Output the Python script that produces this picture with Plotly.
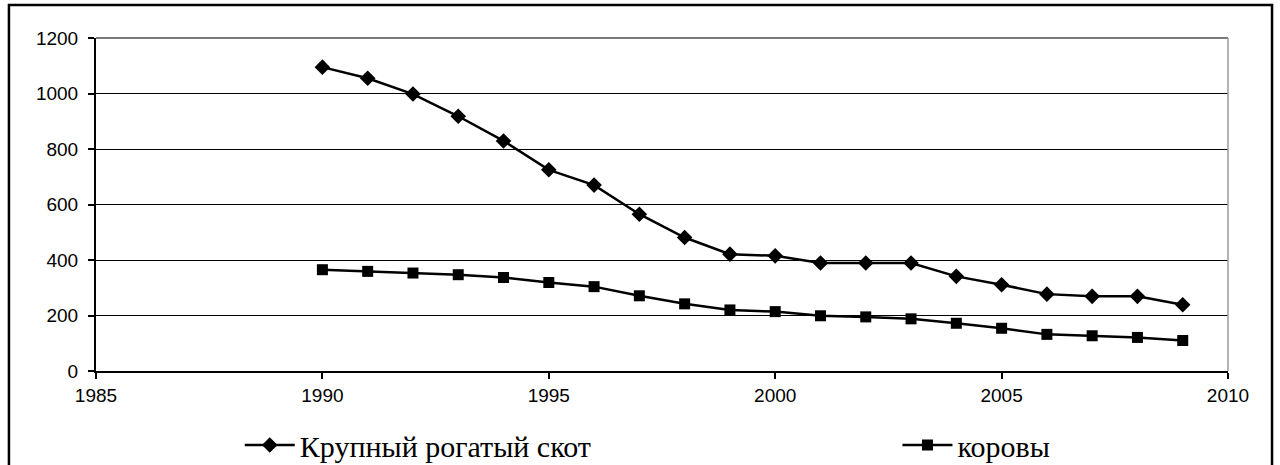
import plotly.graph_objects as go

years = list(range(1990, 2010))
krs = [1095, 1055, 998, 918, 829, 725, 670, 565, 481, 421, 415, 389, 389, 389, 341, 311, 277, 269, 269, 239]
cows = [365, 359, 353, 347, 337, 319, 304, 271, 242, 220, 214, 199, 195, 188, 172, 154, 132, 127, 121, 110]
name_krs = "Крупный рогатый скот"
name_cows = "коровы"

fig = go.Figure()
fig.add_trace(go.Scatter(
    x=years, y=krs, name=name_krs, mode="lines+markers",
    line=dict(color="black", width=2.5),
    marker=dict(symbol="diamond", size=12, color="black"),
    legend="legend",
))
fig.add_trace(go.Scatter(
    x=years, y=cows, name=name_cows, mode="lines+markers",
    line=dict(color="black", width=2.5),
    marker=dict(symbol="square", size=11, color="black"),
    legend="legend2",
))

legend_common = dict(
    font=dict(family="Liberation Serif", size=30, color="black"),
    bgcolor="rgba(0,0,0,0)", borderwidth=0, itemwidth=50,
    yanchor="middle", xanchor="left", y=-0.222,
)

fig.update_layout(
    width=1280, height=465,
    margin=dict(l=96, r=52, t=38, b=94, autoexpand=False),
    paper_bgcolor="white", plot_bgcolor="white",
    showlegend=True,
    legend=dict(x=0.127, **legend_common),
    legend2=dict(x=0.708, **legend_common),
    xaxis=dict(
        range=[1985, 2010], tickvals=[1985, 1990, 1995, 2000, 2005, 2010],
        showgrid=False, zeroline=False,
        showline=True, linecolor="black", linewidth=2,
        ticks="outside", ticklen=6, tickwidth=1.5, tickcolor="black",
        tickfont=dict(family="Liberation Sans", size=19, color="black"),
        ticklabelstandoff=0,
    ),
    yaxis=dict(
        range=[0, 1200], tickvals=[0, 200, 400, 600, 800, 1000, 1200],
        showgrid=True, gridcolor="black", gridwidth=1.3, zeroline=False,
        showline=True, linecolor="black", linewidth=2,
        ticks="outside", ticklen=6, tickwidth=1.5, tickcolor="black",
        tickfont=dict(family="Liberation Sans", size=19, color="black"),
        ticklabelstandoff=6,
    ),
    shapes=[
        dict(type="line", xref="paper", yref="paper", x0=0, x1=1, y0=1, y1=1,
             line=dict(color="#7a7a7a", width=2), layer="above"),
        dict(type="line", xref="paper", yref="paper", x0=1, x1=1, y0=0, y1=1,
             line=dict(color="#9a9a9a", width=1.5), layer="above"),
        dict(type="rect", xref="paper", yref="paper", x0=-0.0769, x1=1.0389, y0=-0.3, y1=1.099,
             line=dict(color="black", width=2.5), layer="above"),
    ],
)

fig.write_html("out.html", config={"displayModeBar": False},
               post_script="document.body.style.margin='0';document.body.style.overflow='hidden';")
